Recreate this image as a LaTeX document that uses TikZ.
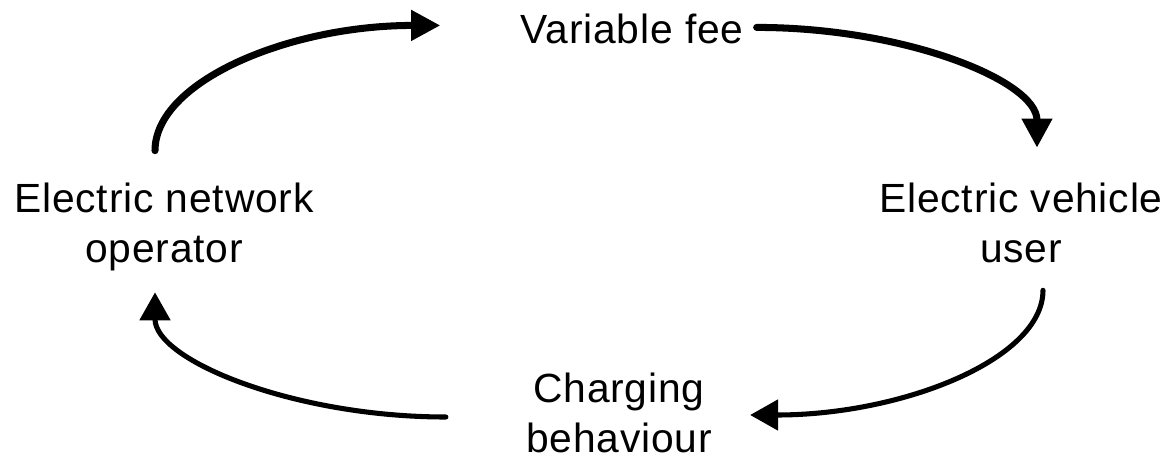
\documentclass[tikz,border=0pt]{standalone}
\usepackage{fontspec}
\setmainfont{Liberation Sans}[LetterSpace=2.0]
\usepackage{tikz}
\usetikzlibrary{arrows.meta}
\tikzset{
  actor/.style={align=center,inner sep=0pt,font=\fontsize{29}{35.6}\selectfont},
  loopedge/.style={-{Triangle[length=7.3mm,width=7.3mm]},line width=5pt,line cap=round},
  thinedge/.style={-{Triangle[length=7mm,width=7.5mm]},line width=3.6pt,line cap=round}
}
\begin{document}
\begin{tikzpicture}[x=0.025cm,y=-0.025cm]
  \useasboundingbox (0,0) rectangle (1167,461);
  \node[actor,anchor=base] (fee) at (632,43) {Variable fee};
  \node[actor] (netop) at (164,227) {Electric network\\operator};
  \node[actor] (evuser) at (1021,223) {Electric vehicle\\user};
  \node[actor] (charge) at (619,413) {Charging\\behaviour};
  \draw[loopedge] ([shift={(-9,-32)}]netop.north) .. controls +(0,-69) and +(-152,0) .. ([shift={(-80,-3)}]fee.west);
  \draw[loopedge] ([shift={(13,-1)}]fee.east) .. controls +(148,0) and +(0,-67) .. ([shift={(16,-35)}]evuser.north);
  \draw[thinedge] ([shift={(22,27)}]evuser.south) .. controls +(0,69) and +(152,0) .. ([shift={(38,2)}]charge.east);
  \draw[thinedge] ([shift={(-80,4)}]charge.west) .. controls +(-152,0) and +(0,68) .. ([shift={(-9,21)}]netop.south);
\end{tikzpicture}
\end{document}
